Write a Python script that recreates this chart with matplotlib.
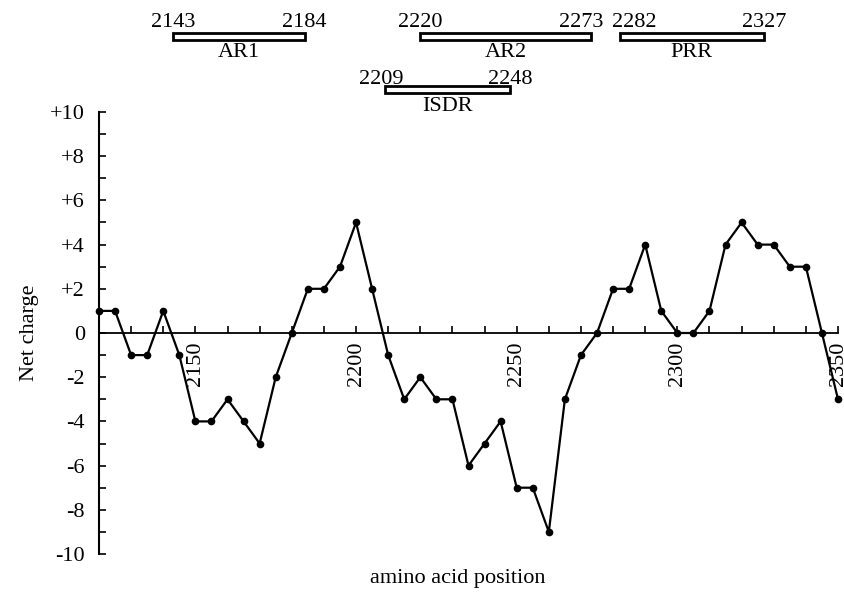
import matplotlib
matplotlib.use('Agg')
import matplotlib.pyplot as plt
import matplotlib.ticker as ticker
from matplotlib.patches import Rectangle

plt.rcParams['font.family'] = ['Liberation Serif', 'DejaVu Serif']

# amino acid position (window centre) and net charge
position = [2120, 2125, 2130, 2135, 2140, 2145, 2150, 2155, 2160, 2165,
            2170, 2175, 2180, 2185, 2190, 2195, 2200, 2205, 2210, 2215,
            2220, 2225, 2230, 2235, 2240, 2245, 2250, 2255, 2260, 2265,
            2270, 2275, 2280, 2285, 2290, 2295, 2300, 2305, 2310, 2315,
            2320, 2325, 2330, 2335, 2340, 2345, 2350]
charge = [1, 1, -1, -1, 1, -1, -4, -4, -3, -4,
          -5, -2, 0, 2, 2, 3, 5, 2, -1, -3,
          -2, -3, -3, -6, -5, -4, -7, -7, -9, -3,
          -1, 0, 2, 2, 4, 1, 0, 0, 1, 4,
          5, 4, 4, 3, 3, 0, -3]

# regions drawn above the plot
region_names = ['AR1', 'AR2', 'PRR', 'ISDR']
region_start = [2143, 2220, 2282, 2209]
region_end = [2184, 2273, 2327, 2248]
region_row = [0, 0, 0, 1]

xtick_values = [2150, 2200, 2250, 2300, 2350]
ytick_values = [10, 8, 6, 4, 2, 0, -2, -4, -6, -8, -10]
ytick_labels = ['+10', '+8', '+6', '+4', '+2', '0', '-2', '-4', '-6', '-8', '-10']

fig = plt.figure(figsize=(8.45, 5.94), dpi=100)
ax = fig.add_axes([99 / 845, 1 - 554 / 594, (838 - 99) / 845, (554 - 112) / 594])

ax.plot(position, charge, color='black', lw=1.6, marker='o', ms=4.5,
        mfc='black', mec='black', clip_on=False, zorder=3)

ax.set_xlim(2120, 2350)
ax.set_ylim(-10, 10)

# axis styling: x axis runs through zero
ax.spines['top'].set_visible(False)
ax.spines['right'].set_visible(False)
ax.spines['bottom'].set_position(('data', 0))
ax.spines['bottom'].set_linewidth(1.3)
ax.spines['left'].set_linewidth(1.5)

ax.set_xticks(xtick_values)
ax.set_xticklabels([str(v) for v in xtick_values], rotation=90, fontsize=16)
ax.xaxis.set_minor_locator(ticker.MultipleLocator(10))
ax.tick_params(axis='x', which='both', direction='in', length=5, width=1.2, pad=6)

ax.set_yticks(ytick_values)
ax.set_yticklabels(ytick_labels, fontsize=16)
ax.yaxis.set_minor_locator(ticker.MultipleLocator(1))
ax.tick_params(axis='y', which='both', direction='in', length=5, width=1.2, pad=10)

ax.set_ylabel('Net charge', fontsize=16, labelpad=8)
fig.text(458 / 845, 1 - 578 / 594, 'amino acid position', fontsize=16,
         ha='center', va='center')

# region boxes (data x, y in data units above the axes)
box_bottom = [13.26, 10.86]
box_h = 0.31
num_y = [13.85, 11.27]
name_y = [13.12, 10.68]
# nudge the crowded numbers between AR2 and PRR apart (x units)
start_shift = [0, 0, 4.5, -1]
end_shift = [0, -3, 0, 0]
for i, name in enumerate(region_names):
    s, e, r = region_start[i], region_end[i], region_row[i]
    ax.add_patch(Rectangle((s, box_bottom[r]), e - s, box_h, fill=False,
                           edgecolor='black', lw=2.0, clip_on=False))
    ax.text(s + start_shift[i], num_y[r], str(s), ha='center', va='baseline',
            fontsize=16, clip_on=False)
    ax.text(e + end_shift[i], num_y[r], str(e), ha='center', va='baseline',
            fontsize=16, clip_on=False)
    ax.text((s + e) / 2, name_y[r], name, ha='center', va='top', fontsize=16,
            clip_on=False)

fig.savefig('out.png', dpi=100)
